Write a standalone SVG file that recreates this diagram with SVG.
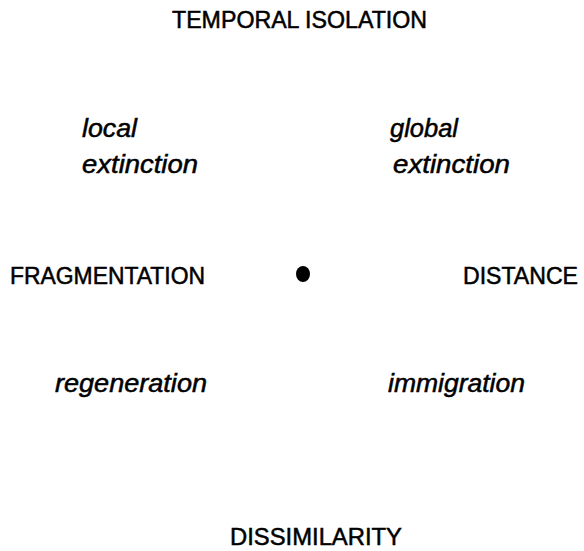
<svg xmlns="http://www.w3.org/2000/svg" width="584" height="551" viewBox="0 0 584 551">
<style>
.cap{font-family:"Liberation Sans",Arial,sans-serif;font-size:23px;fill:#000;stroke:#000;stroke-width:0.5;}
.it{font-family:"Liberation Sans",Arial,sans-serif;font-size:25px;font-style:italic;fill:#000;stroke:#000;stroke-width:0.5;}
</style>
<rect width="584" height="551" fill="#fff"/>
<g id="temporal-isolation"><text class="cap" x="172" y="28" textLength="255" lengthAdjust="spacingAndGlyphs">TEMPORAL ISOLATION</text></g>
<g id="local-extinction">
<text class="it" x="82" y="137" textLength="55" lengthAdjust="spacingAndGlyphs">local</text>
<text class="it" x="82" y="173" textLength="116" lengthAdjust="spacingAndGlyphs">extinction</text>
</g>
<g id="global-extinction">
<text class="it" x="390" y="137" textLength="68" lengthAdjust="spacingAndGlyphs">global</text>
<text class="it" x="393" y="173" textLength="117" lengthAdjust="spacingAndGlyphs">extinction</text>
</g>
<g id="fragmentation"><text class="cap" x="10" y="284" textLength="195" lengthAdjust="spacingAndGlyphs">FRAGMENTATION</text></g>
<g id="center"><ellipse cx="303" cy="274" rx="7" ry="8" fill="#000"/></g>
<g id="distance"><text class="cap" x="463" y="284" textLength="115" lengthAdjust="spacingAndGlyphs">DISTANCE</text></g>
<g id="regeneration"><text class="it" x="55" y="392" textLength="152" lengthAdjust="spacingAndGlyphs">regeneration</text></g>
<g id="immigration"><text class="it" x="388" y="392" textLength="137" lengthAdjust="spacingAndGlyphs">immigration</text></g>
<g id="dissimilarity"><text class="cap" x="230" y="545" textLength="172" lengthAdjust="spacingAndGlyphs">DISSIMILARITY</text></g>
<g id="connectors"/>
</svg>
